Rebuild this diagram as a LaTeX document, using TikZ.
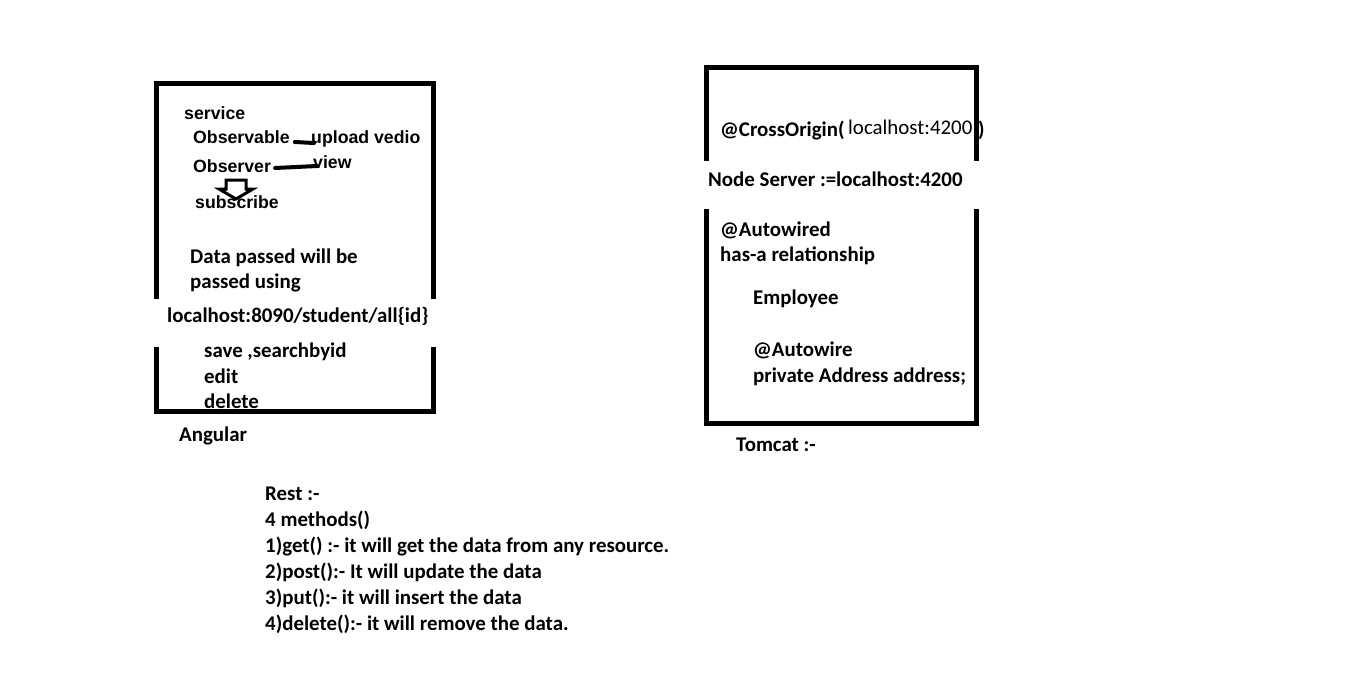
\documentclass[tikz,border=0pt]{standalone}
\usepackage{fontspec}
\setmainfont{Carlito}
\newfontfamily\arialf{Liberation Sans}
\begin{document}
\begin{tikzpicture}[x=1pt,y=-1pt,
  txt/.style={anchor=base west, inner sep=0pt, font=\fontsize{20.9}{26.2}\selectfont\bfseries},
  atxt/.style={anchor=base west, inner sep=0pt, font=\fontsize{17.7}{21}\selectfont\arialf\bfseries},
  rtxt/.style={anchor=base west, inner sep=0pt, font=\fontsize{20.9}{24}\selectfont},
  frame/.style={line width=5pt},
  link/.style={line width=4pt, line cap=round},
  hollow/.style={line width=3pt, fill=white, line join=miter}]
\useasboundingbox (0,0) rectangle (1360,690);
% boxes
\draw[frame] (156.5,83.5) rectangle (433.5,411.5);
\draw[frame] (706.5,67.5) rectangle (976.5,423.5);
% white cut-outs
\fill[white] (152,299) rectangle (438,347);
\fill[white] (700,161) rectangle (990,209);
% Angular box
\node[atxt] (service) at (184,120) {service};
\node[atxt] (obsable) at (193,144) {Observable};
\node[atxt] (observer) at (193,172) {Observer};
\draw[hollow] (226,180) -- (246,180) -- (246,189) -- (253,189) -- (236,199) -- (219,189) -- (226,189) -- cycle;
\node[atxt] (subscribe) at (195,208) {subscribe};
\node[atxt] (upload) at (311,144) {upload vedio};
\node[atxt] (view) at (313,168) {view};
\draw[link] ([shift={(5,-2)}]obsable.base east) -- ([shift={(3,-1)}]upload.base west);
\draw[link] ([shift={(4,-4)}]observer.base east) -- ([shift={(4,-2)}]view.base west);
\node[txt] (data1) at (190,263) {Data passed will be};
\node[txt] (data2) at (190,288) {passed using};
\node[txt] (url) at (167,322) {localhost:8090/student/all\{id\}};
\node[txt] (save) at (204,357) {save ,searchbyid};
\node[txt] (edit) at (204,383) {edit};
\node[txt] (delete) at (204,408) {delete};
\node[txt] (angular) at (179,441) {Angular};
% Tomcat box
\node[txt] (cross) at (720,137) {@CrossOrigin(};
\node[rtxt] (cross4200) at (848,135) {localhost:4200};
\node[txt] (crossclose) at (978,137) {)};
\node[txt] (nodeserver) at (708,186) {Node Server :=localhost:4200};
\node[txt] (autowired) at (720,236) {@Autowired};
\node[txt] (hasa) at (720,261) {has-a relationship};
\node[txt] (employee) at (753,304) {Employee};
\node[txt] (autowire) at (753,356) {@Autowire};
\node[txt] (private) at (753,382) {private Address address;};
\node[txt] (tomcat) at (736,451) {Tomcat :-};
% Rest notes
\node[txt] (rest1) at (265,500) {Rest :-};
\node[txt] (rest2) at (265,526) {4 methods()};
\node[txt] (rest3) at (265,552) {1)get() :- it will get the data from any resource.};
\node[txt] (rest4) at (265,578) {2)post():- It will update the data};
\node[txt] (rest5) at (265,604) {3)put():- it will insert the data};
\node[txt] (rest6) at (265,630) {4)delete():- it will remove the data.};
\end{tikzpicture}
\end{document}
